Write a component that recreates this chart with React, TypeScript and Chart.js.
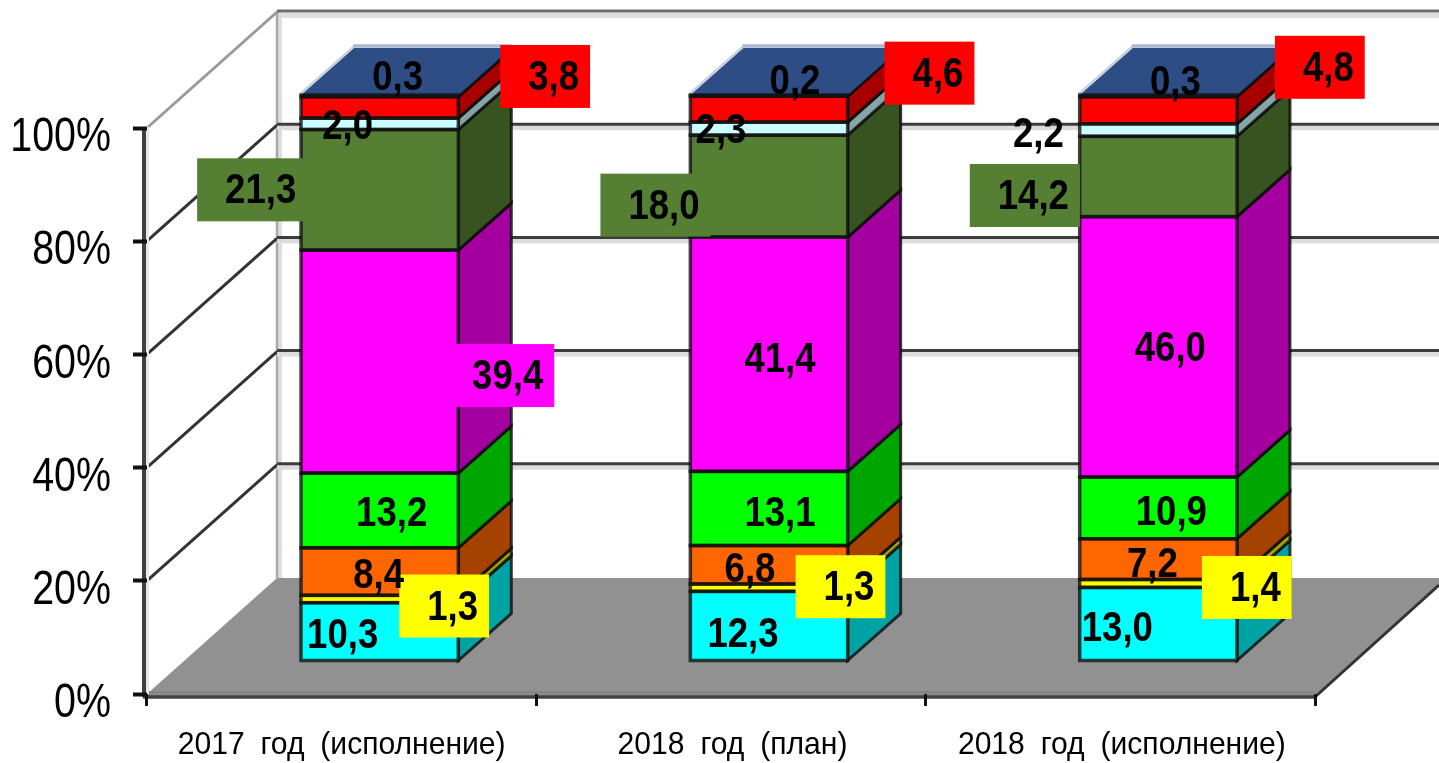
import React, { useEffect, useRef } from "react";
import { Chart, registerables } from "chart.js";

Chart.register(...registerables);

const categories = ["2017 год (исполнение)", "2018 год (план)", "2018 год (исполнение)"];

const cyanValues = [10.3, 12.3, 13.0];
const yellowValues = [1.3, 1.3, 1.4];
const orangeValues = [8.4, 6.8, 7.2];
const limeValues = [13.2, 13.1, 10.9];
const magentaValues = [39.4, 41.4, 46.0];
const oliveValues = [21.3, 18.0, 14.2];
const paleValues = [2.0, 2.3, 2.2];
const redValues = [3.8, 4.6, 4.8];
const blueValues = [0.3, 0.2, 0.3];

const seriesValues = [
  cyanValues, yellowValues, orangeValues, limeValues, magentaValues,
  oliveValues, paleValues, redValues, blueValues,
];

const frontColors = ["#00FFFF", "#FFFF00", "#FF6600", "#00FF00", "#FF00FF", "#558034", "#CCFFFF", "#FF0000", "#2A4A80"];
const sideColors = ["#00A3A3", "#A6A600", "#A64200", "#00A600", "#A3009F", "#375320", "#85A6A6", "#A60000", "#2D4D84"];

// where each data label sits relative to the middle of its segment: [dx, dy] per category
const labelOffsets: number[][][] = [
  [[-37, 2], [-26, 6], [-41, 2]],
  [[73, 6], [80, -2], [97, 3]],
  [[-1, 2], [-19, 3], [-6, 3]],
  [[12, 1], [11, 3], [13, 3]],
  [[128, 13], [11, 3], [12, 0]],
  [[-119, -1], [-105, 18], [-125, 18]],
  [[-32, 1], [-48, 0], [-120, 2]],
  [[174, -32], [169, -37], [170, -44]],
  [[18, -20], [26, -16], [17, -15]],
];
const labelBoxed: boolean[][] = [
  [false, false, false],
  [true, true, true],
  [false, false, false],
  [false, false, false],
  [true, false, false],
  [true, true, true],
  [false, false, false],
  [true, true, true],
  [false, false, false],
];

const WALL_DX = 130;
const WALL_DY = -116;
const BAR_SHIFT_X = 38;
const BAR_SHIFT_Y = -33;
const BAR_DX = 53;
const BAR_DY = -47;
const FONT_FAMILY = "'Liberation Sans', Arial, sans-serif";
const LABEL_FONT = `bold 42px ${FONT_FAMILY}`;
const LABEL_SQUEEZE = 0.87;

const poly = (ctx: CanvasRenderingContext2D, pts: number[][]) => {
  ctx.beginPath();
  pts.forEach(([x, y], i) => (i ? ctx.lineTo(x, y) : ctx.moveTo(x, y)));
  ctx.closePath();
};

const line = (ctx: CanvasRenderingContext2D, x1: number, y1: number, x2: number, y2: number, color: string, w: number) => {
  ctx.strokeStyle = color;
  ctx.lineWidth = w;
  ctx.beginPath();
  ctx.moveTo(x1, y1);
  ctx.lineTo(x2, y2);
  ctx.stroke();
};

const squeezedText = (ctx: CanvasRenderingContext2D, text: string, x: number, y: number, sx: number) => {
  ctx.save();
  ctx.translate(x, y);
  ctx.scale(sx, 1);
  ctx.fillText(text, 0, 0);
  ctx.restore();
};

const wallsPlugin = {
  id: "walls",
  beforeDraw(chart: any) {
    const { ctx, chartArea: a, scales } = chart;
    const W = chart.width;
    const y = scales.y;
    const backBottom = a.bottom + WALL_DY;
    ctx.save();
    ctx.fillStyle = "#fff";
    ctx.fillRect(0, 0, W, chart.height);

    // floor
    ctx.fillStyle = "#919191";
    poly(ctx, [
      [a.left, a.bottom],
      [a.left + WALL_DX, backBottom],
      [W, backBottom],
      [W, a.bottom + WALL_DY + 7],
      [a.right, a.bottom + 2],
      [a.left, a.bottom + 2],
    ]);
    ctx.fill();
    ctx.fillStyle = "#858585";
    ctx.fillRect(a.left, a.bottom - 3, a.right - a.left, 3);

    // back and left wall lines
    ctx.fillStyle = "#dedede";
    ctx.fillRect(a.left + WALL_DX + 3, a.top + WALL_DY + 1, W, 5);
    ctx.fillRect(a.left + WALL_DX + 1, a.top + WALL_DY, 4, backBottom - a.top - WALL_DY);
    line(ctx, a.left + WALL_DX, a.top + WALL_DY - 1, a.left + WALL_DX, backBottom, "#a8a8a8", 2.5);
    y.ticks.forEach((t: any) => {
      if (t.value === 0) return;
      const py = y.getPixelForValue(t.value);
      const top = t.value === y.max;
      const c = top ? "#9a9a9a" : "#333333";
      line(ctx, a.left + 1, py - 1, a.left + WALL_DX, py + WALL_DY, c, 3);
      if (!top) {
        ctx.fillStyle = "#dcdcdc";
        ctx.fillRect(a.left + WALL_DX, py + WALL_DY, W, 5);
      }
      line(ctx, a.left + WALL_DX, py + WALL_DY - 1, W, py + WALL_DY - 1, top ? "#6e6e6e" : "#3c3c3c", 3);
    });
    // floor right edge, axes
    line(ctx, a.right, a.bottom + 3, W, a.bottom + WALL_DY + 7, "#333", 3);
    ctx.fillStyle = "#e8e8e8";
    ctx.fillRect(a.left - 1, a.top, 3, a.bottom - a.top);
    line(ctx, a.left - 3, a.top, a.left - 3, a.bottom + 3, "#404040", 4);
    line(ctx, a.left - 4, a.bottom + 3, a.right, a.bottom + 3, "#404040", 3.5);
    ctx.restore();
  },
};

const barsPlugin = {
  id: "bars3d",
  beforeDatasetsDraw(chart: any) {
    const { ctx } = chart;
    ctx.save();
    ctx.translate(BAR_SHIFT_X, BAR_SHIFT_Y);
    seriesValues.forEach((_, i) => {
      chart.getDatasetMeta(i).data.forEach((el: any) => {
        const r = el.x + el.width / 2;
        ctx.fillStyle = sideColors[i];
        ctx.strokeStyle = "rgba(10,10,10,0.8)";
        ctx.lineWidth = 3;
        poly(ctx, [[r, el.y], [r + BAR_DX, el.y + BAR_DY], [r + BAR_DX, el.base + BAR_DY], [r, el.base]]);
        ctx.fill();
        ctx.stroke();
      });
    });
    const last = seriesValues.length - 1;
    chart.getDatasetMeta(last).data.forEach((el: any) => {
      const l = el.x - el.width / 2;
      const r = el.x + el.width / 2;
      ctx.fillStyle = sideColors[last];
      poly(ctx, [[l, el.y], [l + BAR_DX, el.y + BAR_DY], [r + BAR_DX, el.y + BAR_DY], [r, el.y]]);
      ctx.fill();
      line(ctx, l - 1, el.y - 1, l + BAR_DX - 1, el.y + BAR_DY - 1, "#c4cddd", 2);
      line(ctx, l + BAR_DX - 1, el.y + BAR_DY - 2, r + BAR_DX, el.y + BAR_DY - 2, "#a9b8d0", 3.5);
    });
  },
  afterDatasetsDraw(chart: any) {
    const { ctx } = chart;
    seriesValues.forEach((_, i) => {
      chart.getDatasetMeta(i).data.forEach((el: any) => {
        ctx.strokeStyle = "rgba(15,15,15,0.78)";
        ctx.lineWidth = 3.5;
        ctx.strokeRect(el.x - el.width / 2, el.y, el.width, el.base - el.y);
      });
    });
    ctx.restore();

    // data labels
    ctx.save();
    ctx.font = LABEL_FONT;
    ctx.textAlign = "center";
    ctx.textBaseline = "middle";
    const items: { text: string; x: number; y: number }[] = [];
    seriesValues.forEach((vals, i) => {
      chart.getDatasetMeta(i).data.forEach((el: any, j: number) => {
        const [ox, oy] = labelOffsets[i][j];
        const text = vals[j].toFixed(1).replace(".", ",");
        const x = el.x + BAR_SHIFT_X + ox;
        const y = (el.y + el.base) / 2 + BAR_SHIFT_Y + 1 + oy;
        items.push({ text, x, y });
        if (labelBoxed[i][j]) {
          const w = ctx.measureText(text).width * LABEL_SQUEEZE;
          ctx.fillStyle = frontColors[i];
          ctx.fillRect(x - w / 2 - 28, y - 31.5, w + 39, 63);
        }
      });
    });
    ctx.fillStyle = "#000";
    items.forEach((it) => squeezedText(ctx, it.text, it.x, it.y + 2, LABEL_SQUEEZE));
    ctx.restore();
  },
};

// tick labels are condensed in the reference, so they are drawn squeezed at the scales' own tick positions
const tickTextPlugin = {
  id: "tickText",
  afterDraw(chart: any) {
    const { ctx, scales } = chart;
    ctx.save();
    ctx.fillStyle = "#000";
    ctx.textBaseline = "middle";
    ctx.textAlign = "right";
    ctx.font = `48px ${FONT_FAMILY}`;
    scales.y.ticks.forEach((t: any) => {
      squeezedText(ctx, t.label, 111, scales.y.getPixelForValue(t.value) + 10, 0.82);
    });
    ctx.textAlign = "center";
    ctx.font = `32px ${FONT_FAMILY}`;
    (ctx as any).wordSpacing = "8px";
    scales.x.ticks.forEach((t: any, i: number) => {
      squeezedText(ctx, t.label, scales.x.getPixelForTick(i) + (i ? 1.5 : 0), 745, 0.94);
    });
    ctx.restore();
  },
};

export default function App() {
  const ref = useRef<HTMLCanvasElement>(null);
  useEffect(() => {
    const chart = new Chart(ref.current!, {
      type: "bar",
      data: {
        labels: categories,
        datasets: seriesValues.map((data, i) => ({
          label: `s${i + 1}`,
          data,
          backgroundColor: frontColors[i],
          borderWidth: 0,
          barPercentage: 0.404,
          categoryPercentage: 1,
        })),
      },
      options: {
        animation: false,
        responsive: false,
        layout: { padding: { top: 128, right: 124, left: 0, bottom: 0 } },
        plugins: { legend: { display: false }, tooltip: { enabled: false } },
        scales: {
          x: {
            stacked: true,
            afterFit: (s: any) => { s.height = 69; },
            grid: { drawOnChartArea: false, drawTicks: true, tickLength: 12, tickWidth: 3, tickColor: "#111", offset: true },
            border: { display: false },
            ticks: { display: false, autoSkip: false, maxRotation: 0 },
          },
          y: {
            stacked: true,
            min: 0,
            max: 100,
            afterFit: (s: any) => { s.width = 147; },
            grid: { drawOnChartArea: false, drawTicks: true, tickLength: 14, tickWidth: 4, tickColor: "#111" },
            border: { display: false },
            ticks: { display: false, stepSize: 20, callback: (v: any) => `${v}%` },
          },
        },
      } as any,
      plugins: [wallsPlugin, barsPlugin, tickTextPlugin],
    });
    return () => chart.destroy();
  }, []);
  return (
    <div style={{ position: "fixed", inset: 0 }}>
      <canvas ref={ref} width={1439} height={763} style={{ display: "block" }} />
    </div>
  );
}
